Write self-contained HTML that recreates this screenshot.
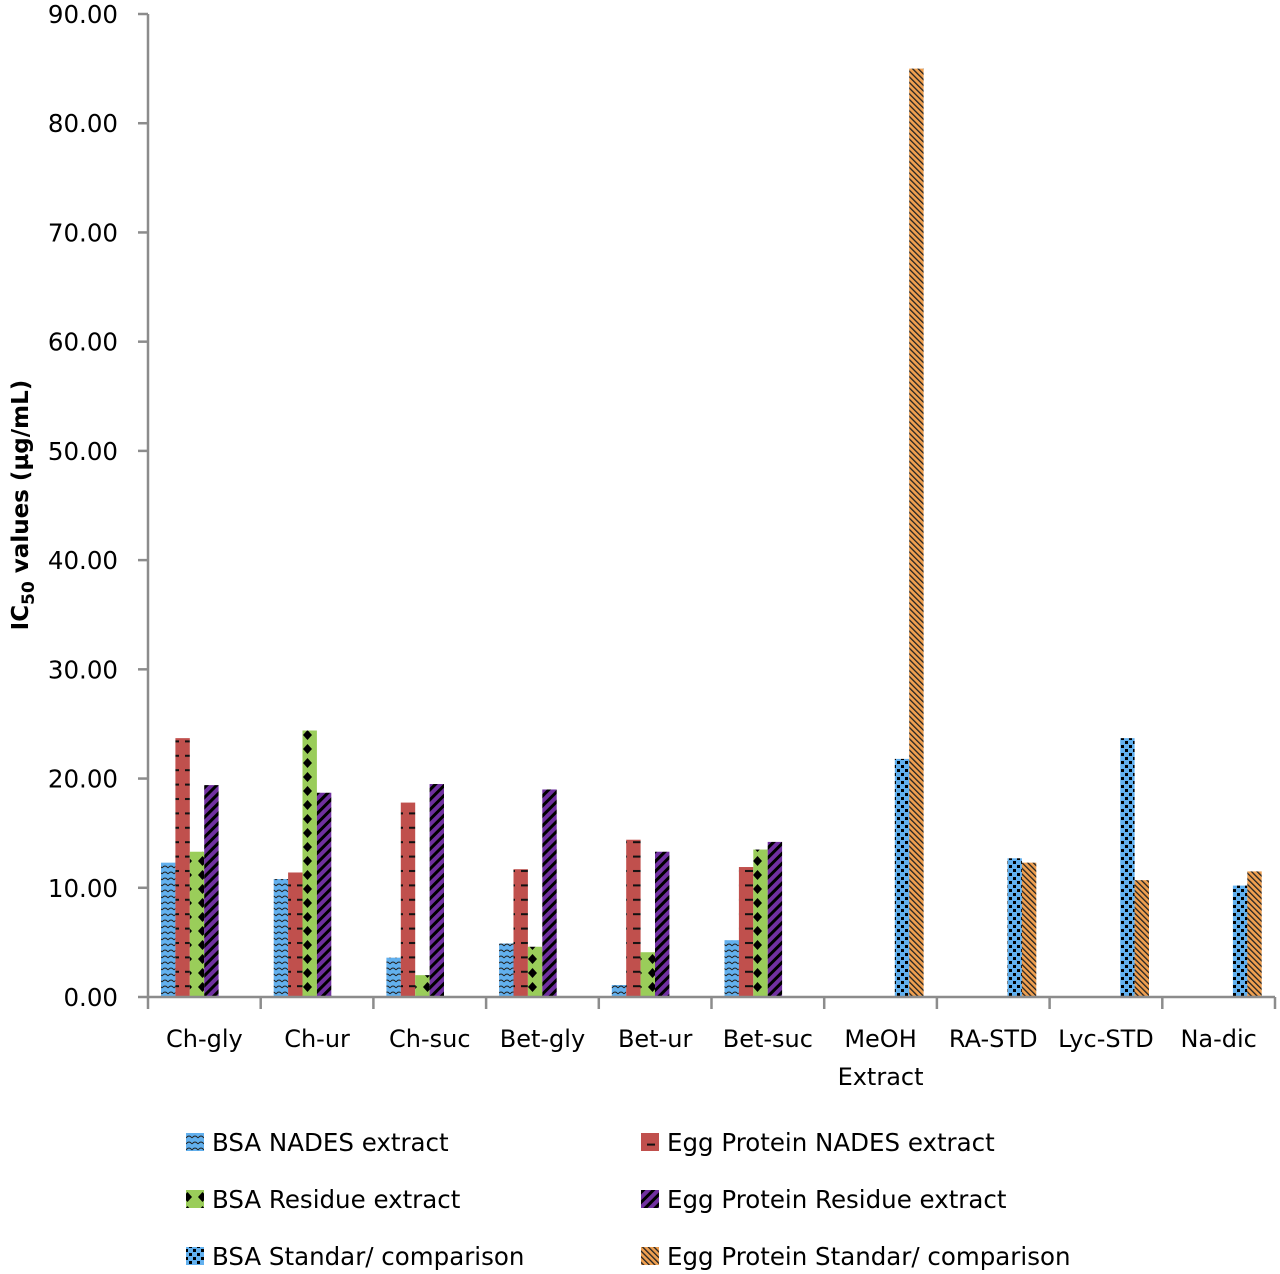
<!DOCTYPE html>
<html><head><meta charset="utf-8"><style>
html,body{margin:0;padding:0;background:#fff;}
svg{display:block;font-family:"DejaVu Sans","Liberation Sans",sans-serif;}
</style></head><body>
<svg id="chart" width="1280" height="1274" viewBox="0 0 1280 1274">
<defs>
<pattern id="p0" width="6" height="6" patternUnits="userSpaceOnUse"><rect width="6" height="6" fill="#62B0EE"/><path d="M0,4 Q3,0 6,4" fill="none" stroke="#222" stroke-width="1"/></pattern>
<pattern id="p1" width="14" height="14.4" patternUnits="userSpaceOnUse"><rect width="14" height="14.4" fill="#C0504D"/><rect x="3" y="6" width="8" height="2" fill="#111"/></pattern>
<pattern id="p2" width="15" height="14" patternUnits="userSpaceOnUse"><rect width="15" height="14" fill="#9ACD5A"/><path d="M7.5,2 L12,7 L7.5,12 L3,7 Z" fill="#000"/></pattern>
<pattern id="p3" width="7" height="7" patternUnits="userSpaceOnUse" patternTransform="rotate(45)"><rect width="7" height="7" fill="#7030A0"/><rect width="3" height="7" fill="#000"/></pattern>
<pattern id="p4" width="8" height="8" patternUnits="userSpaceOnUse"><rect width="8" height="8" fill="#62B0EE"/><rect x="1" y="1" width="3" height="3" fill="#000"/><rect x="5" y="5" width="3" height="3" fill="#000"/></pattern>
<pattern id="p5" width="4" height="4" patternUnits="userSpaceOnUse" patternTransform="rotate(-45)"><rect width="4" height="4" fill="#F0A050"/><rect width="1.3" height="4" fill="#222"/></pattern>
</defs>
<g id="grid"></g>
<g id="bars"></g>
<g id="axes"></g>
<text transform="translate(28,505) rotate(-90)" text-anchor="middle" font-size="23" font-weight="bold">IC<tspan font-size="17" dy="6">50</tspan><tspan dy="-6"> values (µg/mL)</tspan></text>
<g id="legend"></g>
</svg>
<script>
const categories=[["Ch-gly"],["Ch-ur"],["Ch-suc"],["Bet-gly"],["Bet-ur"],["Bet-suc"],["MeOH","Extract"],["RA-STD"],["Lyc-STD"],["Na-dic"]];
const seriesNames=["BSA NADES extract","Egg Protein NADES extract","BSA Residue extract","Egg Protein Residue extract","BSA Standar/ comparison","Egg Protein Standar/ comparison"];
const bsaNades=[12.3,10.8,3.6,4.9,1.1,5.2,null,null,null,null];
const eggNades=[23.7,11.4,17.8,11.7,14.4,11.9,null,null,null,null];
const bsaResidue=[13.3,24.4,2.0,4.6,4.1,13.5,null,null,null,null];
const eggResidue=[19.4,18.7,19.5,19.0,13.3,14.2,null,null,null,null];
const bsaStd=[null,null,null,null,null,null,21.8,12.7,23.7,10.2];
const eggStd=[null,null,null,null,null,null,85.0,12.3,10.7,11.5];
const yTicks=[0,10,20,30,40,50,60,70,80,90];
const series=[bsaNades,eggNades,bsaResidue,eggResidue,bsaStd,eggStd];
const NS="http://www.w3.org/2000/svg";
const X0=148,X1=1275,Y0=997,Y1=14,YMAX=90;
const catW=(X1-X0)/categories.length, barW=14.4, off=13;
const y=v=>Y0-(v/YMAX)*(Y0-Y1);
const xb=(c,s)=>X0+c*catW+off+s*barW;
function mk(t,a,p){const e=document.createElementNS(NS,t);for(const k in a)e.setAttribute(k,a[k]);p.appendChild(e);return e;}
const bars=document.getElementById('bars');
series.forEach((arr,s)=>{arr.forEach((v,c)=>{if(v==null)return;
 const r=mk('rect',{x:xb(c,s),y:y(v),width:barW,height:Y0-y(v),fill:'url(#p'+s+')'},bars);
 
 });});
const ax=document.getElementById('axes');
const ya=mk('line',{x1:X0,y1:Y1,x2:X0,y2:Y0,stroke:'#8c8c8c','stroke-width':2.5},ax);

const xa=mk('line',{x1:X0,y1:Y0,x2:X1,y2:Y0,stroke:'#8c8c8c','stroke-width':2.5},ax);

yTicks.forEach(t=>{mk('line',{x1:X0-10,y1:y(t),x2:X0,y2:y(t),stroke:'#8c8c8c','stroke-width':2.5},ax);
 const tx=mk('text',{x:118,y:y(t)+9,'text-anchor':'end','font-size':24.5,fill:'#000'},ax);tx.textContent=t.toFixed(2);
 });
for(let i=0;i<=categories.length;i++){const xx=X0+i*catW;mk('line',{x1:xx,y1:Y0,x2:xx,y2:Y0+12,stroke:'#8c8c8c','stroke-width':2.5},ax);}
categories.forEach((c,i)=>{c.forEach((ln,j)=>{const tx=mk('text',{x:X0+(i+0.5)*catW,y:1047+j*38,'text-anchor':'middle','font-size':24},ax);tx.textContent=ln;
 });});
const lg=document.getElementById('legend');
seriesNames.forEach((n,i)=>{const col=i%2,row=Math.floor(i/2);const lx=col?641:186,ly=1142+row*57;
 const g=mk('g',{},lg);
 mk('rect',{x:lx,y:ly-9,width:18,height:18,fill:'url(#p'+i+')'},g);
 const tx=mk('text',{x:lx+26,y:ly+9,'font-size':24.5},g);tx.textContent=n;});
</script>
</body></html>
